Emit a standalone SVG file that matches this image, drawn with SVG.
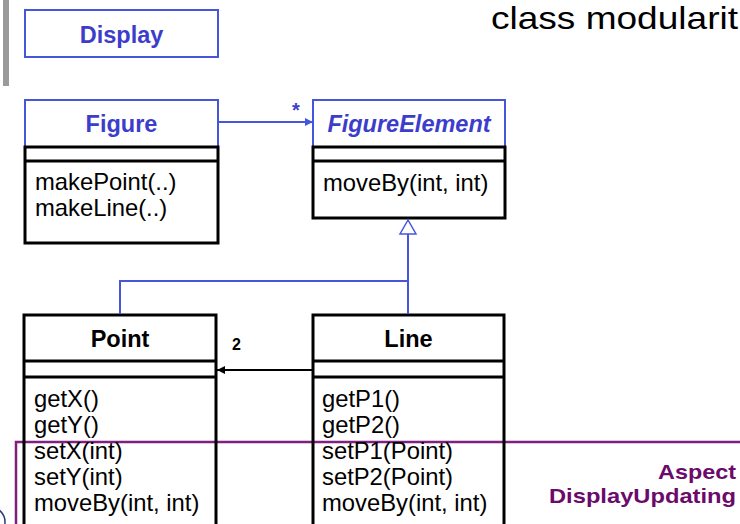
<svg xmlns="http://www.w3.org/2000/svg" width="740" height="524" viewBox="0 0 740 524">
<defs>
<style>
text{font-family:"Liberation Sans",Arial,sans-serif}
.t{font-size:23.5px;font-weight:bold;text-anchor:middle}
.tb{fill:#3d3dcc}
.m{font-size:23.8px;fill:#000}
.hb{fill:#fff;stroke:#4656dc;stroke-width:2}
.bk{fill:none;stroke:#000;stroke-width:3}
.cb{fill:none;stroke:#4656dc;stroke-width:2}
.ck{fill:none;stroke:#000;stroke-width:2}
.asp{font-size:21px;font-weight:bold;text-anchor:end;fill:#6b0a6b}
</style>
<marker id="ab" markerUnits="userSpaceOnUse" markerWidth="10" markerHeight="10" refX="8" refY="4" orient="auto"><path d="M0,0 L8,4 L0,8 Z" fill="#4656dc"/></marker>
<marker id="ak" markerUnits="userSpaceOnUse" markerWidth="10" markerHeight="10" refX="8" refY="4" orient="auto"><path d="M0,0 L8,4 L0,8 Z" fill="#000"/></marker>
</defs>
<rect width="740" height="524" fill="#fff"/>
<rect x="3" y="0" width="6" height="86" fill="#9a9a9a"/>
<text x="491" y="29" style="font-size:32px" textLength="247" lengthAdjust="spacingAndGlyphs" fill="#000">class modularit</text>
<circle cx="-10" cy="522" r="15" fill="none" stroke="#2a3a7a" stroke-width="1.5"/>

<g id="aspect">
<path d="M16,524 V442 H740" fill="none" stroke="#7f1f7f" stroke-width="2.5"/>
<text class="asp" x="736" y="479" textLength="78" lengthAdjust="spacingAndGlyphs">Aspect</text>
<text class="asp" x="736" y="503" textLength="187" lengthAdjust="spacingAndGlyphs">DisplayUpdating</text>
</g>

<g id="display">
<rect class="hb" x="25" y="10" width="193" height="47"/>
<text class="t tb" x="121.5" y="43">Display</text>
</g>

<g id="figure">
<rect class="hb" x="25" y="100" width="193" height="47"/>
<text class="t tb" x="121.5" y="131.5">Figure</text>
<rect class="bk" x="25" y="147" width="193" height="96"/>
<line class="bk" x1="25" y1="161" x2="218" y2="161"/>
<text class="m" x="35" y="190">makePoint(..)</text>
<text class="m" x="35" y="216">makeLine(..)</text>
</g>

<g id="figureelement">
<rect class="hb" x="313" y="100" width="192" height="47"/>
<text class="t tb" x="409" y="131.5" style="font-style:italic">FigureElement</text>
<rect class="bk" x="313" y="147" width="192" height="71"/>
<line class="bk" x1="313" y1="161" x2="505" y2="161"/>
<text class="m" x="323" y="191">moveBy(int, int)</text>
</g>

<g id="point">
<rect class="bk" x="24" y="315" width="192" height="215"/>
<line class="bk" x1="24" y1="361" x2="216" y2="361"/>
<line class="bk" x1="24" y1="377" x2="216" y2="377"/>
<text class="t" x="120" y="346.5">Point</text>
<text class="m" x="34" y="407">getX()</text>
<text class="m" x="34" y="433">getY()</text>
<text class="m" x="34" y="459">setX(int)</text>
<text class="m" x="34" y="485">setY(int)</text>
<text class="m" x="34" y="511">moveBy(int, int)</text>
</g>

<g id="line">
<rect class="bk" x="313" y="315" width="191" height="215"/>
<line class="bk" x1="313" y1="361" x2="504" y2="361"/>
<line class="bk" x1="313" y1="377" x2="504" y2="377"/>
<text class="t" x="408.5" y="346.5">Line</text>
<text class="m" x="322" y="407">getP1()</text>
<text class="m" x="322" y="433">getP2()</text>
<text class="m" x="322" y="459">setP1(Point)</text>
<text class="m" x="322" y="485">setP2(Point)</text>
<text class="m" x="322" y="511">moveBy(int, int)</text>
</g>

<g id="connectors">
<line class="cb" x1="218" y1="122" x2="313" y2="122" marker-end="url(#ab)"/>
<text x="292" y="117" style="font-size:20px;font-weight:bold" fill="#3d3dcc">*</text>
<polyline class="cb" points="120,314 120,281 408,281"/>
<line class="cb" x1="408" y1="314" x2="408" y2="234"/>
<polygon points="408,220 400,234 416,234" fill="#fff" stroke="#4656dc" stroke-width="1.5"/>
<line class="ck" x1="313" y1="370" x2="217" y2="370" marker-end="url(#ak)"/>
<text x="232" y="350" style="font-size:16px;font-weight:bold" fill="#000">2</text>
</g>
</svg>
